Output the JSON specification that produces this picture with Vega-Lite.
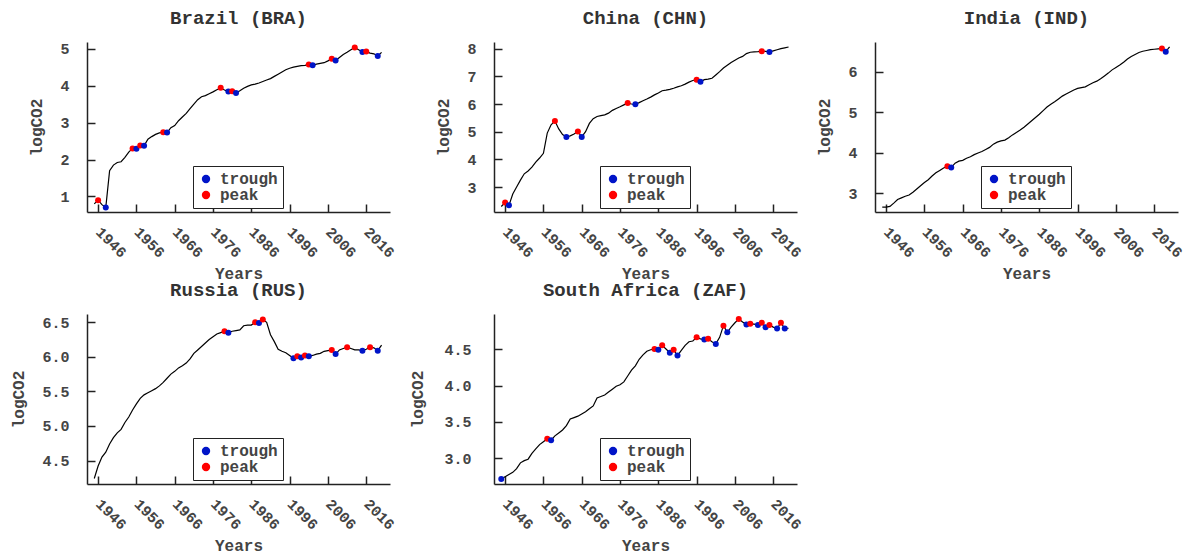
{
  "$schema": "https://vega.github.io/schema/vega-lite/v6.json",
  "background": "white",
  "padding": {"left": 10, "top": 8, "right": 5, "bottom": 3},
  "config": {
    "font": "Liberation Mono",
    "view": {"stroke": null},
    "axis": {
      "labelFont": "Liberation Mono", "labelFontSize": 15, "labelFontWeight": "bold", "labelColor": "#444",
      "titleFont": "Liberation Mono", "titleFontSize": 16, "titleFontWeight": "bold", "titleColor": "#444",
      "domainColor": "#222", "domainWidth": 1.5, "tickColor": "#222", "tickWidth": 1.5, "tickSize": -8, "grid": false
    },
    "axisX": {"labelAngle": 45, "labelAlign": "left", "labelBaseline": "middle", "labelPadding": 25, "titlePadding": 5},
    "axisY": {"labelPadding": 26, "titlePadding": 15},
    "title": {"font": "Liberation Mono", "fontSize": 19, "fontWeight": "bold", "color": "#333", "offset": 14},
    "legend": {
      "orient": "none", "legendX": 106, "legendY": 124, "title": null,
      "strokeColor": "#222", "fillColor": "white", "padding": 5,
      "labelFont": "Liberation Mono", "labelFontSize": 16, "labelFontWeight": "bold", "labelColor": "#444",
      "labelOffset": 6, "rowPadding": -7, "symbolSize": 70, "symbolType": "circle", "symbolStrokeWidth": 0
    }
  },
  "datasets": {
    "co2": [
      {"c":"BRA","year":1945,"v":0.80},{"c":"BRA","year":1946,"v":0.90,"kind":"peak"},{"c":"BRA","year":1947,"v":0.78},{"c":"BRA","year":1948,"v":0.70,"kind":"trough"},{"c":"BRA","year":1949,"v":1.70},{"c":"BRA","year":1950,"v":1.85},{"c":"BRA","year":1951,"v":1.92},{"c":"BRA","year":1952,"v":1.94},{"c":"BRA","year":1953,"v":2.06},{"c":"BRA","year":1954,"v":2.20},{"c":"BRA","year":1955,"v":2.30,"kind":"peak"},{"c":"BRA","year":1956,"v":2.29,"kind":"trough"},{"c":"BRA","year":1957,"v":2.38,"kind":"peak"},{"c":"BRA","year":1958,"v":2.37,"kind":"trough"},{"c":"BRA","year":1959,"v":2.55},{"c":"BRA","year":1960,"v":2.62},{"c":"BRA","year":1961,"v":2.68},{"c":"BRA","year":1962,"v":2.72},{"c":"BRA","year":1963,"v":2.74,"kind":"peak"},{"c":"BRA","year":1964,"v":2.73,"kind":"trough"},{"c":"BRA","year":1965,"v":2.86},{"c":"BRA","year":1966,"v":2.92},{"c":"BRA","year":1967,"v":3.05},{"c":"BRA","year":1968,"v":3.15},{"c":"BRA","year":1969,"v":3.25},{"c":"BRA","year":1970,"v":3.38},{"c":"BRA","year":1971,"v":3.50},{"c":"BRA","year":1972,"v":3.62},{"c":"BRA","year":1973,"v":3.70},{"c":"BRA","year":1974,"v":3.73},{"c":"BRA","year":1975,"v":3.78},{"c":"BRA","year":1976,"v":3.83},{"c":"BRA","year":1977,"v":3.89},{"c":"BRA","year":1978,"v":3.94,"kind":"peak"},{"c":"BRA","year":1979,"v":3.88},{"c":"BRA","year":1980,"v":3.84,"kind":"trough"},{"c":"BRA","year":1981,"v":3.85,"kind":"peak"},{"c":"BRA","year":1982,"v":3.80,"kind":"trough"},{"c":"BRA","year":1983,"v":3.86},{"c":"BRA","year":1984,"v":3.93},{"c":"BRA","year":1985,"v":3.98},{"c":"BRA","year":1986,"v":4.02},{"c":"BRA","year":1987,"v":4.04},{"c":"BRA","year":1988,"v":4.07},{"c":"BRA","year":1989,"v":4.11},{"c":"BRA","year":1990,"v":4.15},{"c":"BRA","year":1991,"v":4.19},{"c":"BRA","year":1992,"v":4.25},{"c":"BRA","year":1993,"v":4.31},{"c":"BRA","year":1994,"v":4.37},{"c":"BRA","year":1995,"v":4.43},{"c":"BRA","year":1996,"v":4.47},{"c":"BRA","year":1997,"v":4.50},{"c":"BRA","year":1998,"v":4.52},{"c":"BRA","year":1999,"v":4.54},{"c":"BRA","year":2000,"v":4.55},{"c":"BRA","year":2001,"v":4.57,"kind":"peak"},{"c":"BRA","year":2002,"v":4.55,"kind":"trough"},{"c":"BRA","year":2003,"v":4.58},{"c":"BRA","year":2004,"v":4.60},{"c":"BRA","year":2005,"v":4.62},{"c":"BRA","year":2006,"v":4.67},{"c":"BRA","year":2007,"v":4.73,"kind":"peak"},{"c":"BRA","year":2008,"v":4.68,"kind":"trough"},{"c":"BRA","year":2009,"v":4.76},{"c":"BRA","year":2010,"v":4.84},{"c":"BRA","year":2011,"v":4.90},{"c":"BRA","year":2012,"v":4.97},{"c":"BRA","year":2013,"v":5.03,"kind":"peak"},{"c":"BRA","year":2014,"v":4.97},{"c":"BRA","year":2015,"v":4.91,"kind":"trough"},{"c":"BRA","year":2016,"v":4.92,"kind":"peak"},{"c":"BRA","year":2017,"v":4.88},{"c":"BRA","year":2018,"v":4.86},{"c":"BRA","year":2019,"v":4.80,"kind":"trough"},{"c":"BRA","year":2020,"v":4.90},

      {"c":"CHN","year":1945,"v":2.30},{"c":"CHN","year":1946,"v":2.44,"kind":"peak"},{"c":"CHN","year":1947,"v":2.34,"kind":"trough"},{"c":"CHN","year":1948,"v":2.75},{"c":"CHN","year":1949,"v":3.00},{"c":"CHN","year":1950,"v":3.25},{"c":"CHN","year":1951,"v":3.48},{"c":"CHN","year":1952,"v":3.58},{"c":"CHN","year":1953,"v":3.72},{"c":"CHN","year":1954,"v":3.90},{"c":"CHN","year":1955,"v":4.05},{"c":"CHN","year":1956,"v":4.22},{"c":"CHN","year":1957,"v":4.95},{"c":"CHN","year":1958,"v":5.25},{"c":"CHN","year":1959,"v":5.39,"kind":"peak"},{"c":"CHN","year":1960,"v":5.10},{"c":"CHN","year":1961,"v":4.90},{"c":"CHN","year":1962,"v":4.81,"kind":"trough"},{"c":"CHN","year":1963,"v":4.85},{"c":"CHN","year":1964,"v":4.92},{"c":"CHN","year":1965,"v":5.01,"kind":"peak"},{"c":"CHN","year":1966,"v":4.81,"kind":"trough"},{"c":"CHN","year":1967,"v":5.00},{"c":"CHN","year":1968,"v":5.30},{"c":"CHN","year":1969,"v":5.47},{"c":"CHN","year":1970,"v":5.55},{"c":"CHN","year":1971,"v":5.58},{"c":"CHN","year":1972,"v":5.61},{"c":"CHN","year":1973,"v":5.67},{"c":"CHN","year":1974,"v":5.77},{"c":"CHN","year":1975,"v":5.84},{"c":"CHN","year":1976,"v":5.90},{"c":"CHN","year":1977,"v":5.97},{"c":"CHN","year":1978,"v":6.04,"kind":"peak"},{"c":"CHN","year":1979,"v":6.00},{"c":"CHN","year":1980,"v":5.99,"kind":"trough"},{"c":"CHN","year":1981,"v":6.05},{"c":"CHN","year":1982,"v":6.12},{"c":"CHN","year":1983,"v":6.18},{"c":"CHN","year":1984,"v":6.25},{"c":"CHN","year":1985,"v":6.33},{"c":"CHN","year":1986,"v":6.40},{"c":"CHN","year":1987,"v":6.48},{"c":"CHN","year":1988,"v":6.50},{"c":"CHN","year":1989,"v":6.53},{"c":"CHN","year":1990,"v":6.57},{"c":"CHN","year":1991,"v":6.62},{"c":"CHN","year":1992,"v":6.66},{"c":"CHN","year":1993,"v":6.72},{"c":"CHN","year":1994,"v":6.79},{"c":"CHN","year":1995,"v":6.85},{"c":"CHN","year":1996,"v":6.88,"kind":"peak"},{"c":"CHN","year":1997,"v":6.80,"kind":"trough"},{"c":"CHN","year":1998,"v":6.88},{"c":"CHN","year":1999,"v":6.90},{"c":"CHN","year":2000,"v":6.93},{"c":"CHN","year":2001,"v":7.05},{"c":"CHN","year":2002,"v":7.17},{"c":"CHN","year":2003,"v":7.30},{"c":"CHN","year":2004,"v":7.40},{"c":"CHN","year":2005,"v":7.50},{"c":"CHN","year":2006,"v":7.58},{"c":"CHN","year":2007,"v":7.66},{"c":"CHN","year":2008,"v":7.72},{"c":"CHN","year":2009,"v":7.82},{"c":"CHN","year":2010,"v":7.87},{"c":"CHN","year":2011,"v":7.88},{"c":"CHN","year":2012,"v":7.89},{"c":"CHN","year":2013,"v":7.91,"kind":"peak"},{"c":"CHN","year":2014,"v":7.90},{"c":"CHN","year":2015,"v":7.88,"kind":"trough"},{"c":"CHN","year":2016,"v":7.92},{"c":"CHN","year":2017,"v":7.96},{"c":"CHN","year":2018,"v":8.00},{"c":"CHN","year":2019,"v":8.03},{"c":"CHN","year":2020,"v":8.06},

      {"c":"IND","year":1945,"v":2.65},{"c":"IND","year":1946,"v":2.65},{"c":"IND","year":1947,"v":2.67},{"c":"IND","year":1948,"v":2.75},{"c":"IND","year":1949,"v":2.84},{"c":"IND","year":1950,"v":2.88},{"c":"IND","year":1951,"v":2.92},{"c":"IND","year":1952,"v":2.95},{"c":"IND","year":1953,"v":3.02},{"c":"IND","year":1954,"v":3.10},{"c":"IND","year":1955,"v":3.18},{"c":"IND","year":1956,"v":3.26},{"c":"IND","year":1957,"v":3.33},{"c":"IND","year":1958,"v":3.42},{"c":"IND","year":1959,"v":3.50},{"c":"IND","year":1960,"v":3.56},{"c":"IND","year":1961,"v":3.62},{"c":"IND","year":1962,"v":3.66,"kind":"peak"},{"c":"IND","year":1963,"v":3.63,"kind":"trough"},{"c":"IND","year":1964,"v":3.74},{"c":"IND","year":1965,"v":3.79},{"c":"IND","year":1966,"v":3.81},{"c":"IND","year":1967,"v":3.86},{"c":"IND","year":1968,"v":3.90},{"c":"IND","year":1969,"v":3.95},{"c":"IND","year":1970,"v":3.99},{"c":"IND","year":1971,"v":4.03},{"c":"IND","year":1972,"v":4.08},{"c":"IND","year":1973,"v":4.13},{"c":"IND","year":1974,"v":4.21},{"c":"IND","year":1975,"v":4.26},{"c":"IND","year":1976,"v":4.29},{"c":"IND","year":1977,"v":4.31},{"c":"IND","year":1978,"v":4.37},{"c":"IND","year":1979,"v":4.44},{"c":"IND","year":1980,"v":4.50},{"c":"IND","year":1981,"v":4.56},{"c":"IND","year":1982,"v":4.63},{"c":"IND","year":1983,"v":4.71},{"c":"IND","year":1984,"v":4.79},{"c":"IND","year":1985,"v":4.87},{"c":"IND","year":1986,"v":4.95},{"c":"IND","year":1987,"v":5.04},{"c":"IND","year":1988,"v":5.13},{"c":"IND","year":1989,"v":5.20},{"c":"IND","year":1990,"v":5.26},{"c":"IND","year":1991,"v":5.33},{"c":"IND","year":1992,"v":5.40},{"c":"IND","year":1993,"v":5.45},{"c":"IND","year":1994,"v":5.50},{"c":"IND","year":1995,"v":5.55},{"c":"IND","year":1996,"v":5.59},{"c":"IND","year":1997,"v":5.61},{"c":"IND","year":1998,"v":5.63},{"c":"IND","year":1999,"v":5.68},{"c":"IND","year":2000,"v":5.73},{"c":"IND","year":2001,"v":5.77},{"c":"IND","year":2002,"v":5.83},{"c":"IND","year":2003,"v":5.90},{"c":"IND","year":2004,"v":5.97},{"c":"IND","year":2005,"v":6.05},{"c":"IND","year":2006,"v":6.11},{"c":"IND","year":2007,"v":6.17},{"c":"IND","year":2008,"v":6.24},{"c":"IND","year":2009,"v":6.32},{"c":"IND","year":2010,"v":6.38},{"c":"IND","year":2011,"v":6.43},{"c":"IND","year":2012,"v":6.48},{"c":"IND","year":2013,"v":6.51},{"c":"IND","year":2014,"v":6.53},{"c":"IND","year":2015,"v":6.55},{"c":"IND","year":2016,"v":6.56},{"c":"IND","year":2017,"v":6.57},{"c":"IND","year":2018,"v":6.58,"kind":"peak"},{"c":"IND","year":2019,"v":6.50,"kind":"trough"},{"c":"IND","year":2020,"v":6.62},

      {"c":"RUS","year":1945,"v":4.24},{"c":"RUS","year":1946,"v":4.42},{"c":"RUS","year":1947,"v":4.55},{"c":"RUS","year":1948,"v":4.62},{"c":"RUS","year":1949,"v":4.74},{"c":"RUS","year":1950,"v":4.83},{"c":"RUS","year":1951,"v":4.90},{"c":"RUS","year":1952,"v":4.95},{"c":"RUS","year":1953,"v":5.05},{"c":"RUS","year":1954,"v":5.13},{"c":"RUS","year":1955,"v":5.23},{"c":"RUS","year":1956,"v":5.32},{"c":"RUS","year":1957,"v":5.40},{"c":"RUS","year":1958,"v":5.45},{"c":"RUS","year":1959,"v":5.48},{"c":"RUS","year":1960,"v":5.51},{"c":"RUS","year":1961,"v":5.54},{"c":"RUS","year":1962,"v":5.58},{"c":"RUS","year":1963,"v":5.63},{"c":"RUS","year":1964,"v":5.69},{"c":"RUS","year":1965,"v":5.75},{"c":"RUS","year":1966,"v":5.79},{"c":"RUS","year":1967,"v":5.84},{"c":"RUS","year":1968,"v":5.87},{"c":"RUS","year":1969,"v":5.91},{"c":"RUS","year":1970,"v":5.97},{"c":"RUS","year":1971,"v":6.05},{"c":"RUS","year":1972,"v":6.10},{"c":"RUS","year":1973,"v":6.15},{"c":"RUS","year":1974,"v":6.20},{"c":"RUS","year":1975,"v":6.25},{"c":"RUS","year":1976,"v":6.29},{"c":"RUS","year":1977,"v":6.33},{"c":"RUS","year":1978,"v":6.35},{"c":"RUS","year":1979,"v":6.37,"kind":"peak"},{"c":"RUS","year":1980,"v":6.35,"kind":"trough"},{"c":"RUS","year":1981,"v":6.37},{"c":"RUS","year":1982,"v":6.38},{"c":"RUS","year":1983,"v":6.39},{"c":"RUS","year":1984,"v":6.45},{"c":"RUS","year":1985,"v":6.46},{"c":"RUS","year":1986,"v":6.46},{"c":"RUS","year":1987,"v":6.50,"kind":"peak"},{"c":"RUS","year":1988,"v":6.49,"kind":"trough"},{"c":"RUS","year":1989,"v":6.54,"kind":"peak"},{"c":"RUS","year":1990,"v":6.50},{"c":"RUS","year":1991,"v":6.32},{"c":"RUS","year":1992,"v":6.22},{"c":"RUS","year":1993,"v":6.11},{"c":"RUS","year":1994,"v":6.08},{"c":"RUS","year":1995,"v":6.06},{"c":"RUS","year":1996,"v":6.02},{"c":"RUS","year":1997,"v":5.98,"kind":"trough"},{"c":"RUS","year":1998,"v":6.01,"kind":"peak"},{"c":"RUS","year":1999,"v":5.99,"kind":"trough"},{"c":"RUS","year":2000,"v":6.02,"kind":"peak"},{"c":"RUS","year":2001,"v":6.01,"kind":"trough"},{"c":"RUS","year":2002,"v":6.02},{"c":"RUS","year":2003,"v":6.04},{"c":"RUS","year":2004,"v":6.05},{"c":"RUS","year":2005,"v":6.08},{"c":"RUS","year":2006,"v":6.09},{"c":"RUS","year":2007,"v":6.10,"kind":"peak"},{"c":"RUS","year":2008,"v":6.04,"kind":"trough"},{"c":"RUS","year":2009,"v":6.10},{"c":"RUS","year":2010,"v":6.12},{"c":"RUS","year":2011,"v":6.14,"kind":"peak"},{"c":"RUS","year":2012,"v":6.12},{"c":"RUS","year":2013,"v":6.10},{"c":"RUS","year":2014,"v":6.10},{"c":"RUS","year":2015,"v":6.09,"kind":"trough"},{"c":"RUS","year":2016,"v":6.11},{"c":"RUS","year":2017,"v":6.14,"kind":"peak"},{"c":"RUS","year":2018,"v":6.13},{"c":"RUS","year":2019,"v":6.09,"kind":"trough"},{"c":"RUS","year":2020,"v":6.17},

      {"c":"ZAF","year":1945,"v":2.72,"kind":"trough"},{"c":"ZAF","year":1946,"v":2.75},{"c":"ZAF","year":1947,"v":2.78},{"c":"ZAF","year":1948,"v":2.81},{"c":"ZAF","year":1949,"v":2.86},{"c":"ZAF","year":1950,"v":2.94},{"c":"ZAF","year":1951,"v":2.97},{"c":"ZAF","year":1952,"v":2.99},{"c":"ZAF","year":1953,"v":3.07},{"c":"ZAF","year":1954,"v":3.13},{"c":"ZAF","year":1955,"v":3.19},{"c":"ZAF","year":1956,"v":3.23},{"c":"ZAF","year":1957,"v":3.27,"kind":"peak"},{"c":"ZAF","year":1958,"v":3.25,"kind":"trough"},{"c":"ZAF","year":1959,"v":3.31},{"c":"ZAF","year":1960,"v":3.35},{"c":"ZAF","year":1961,"v":3.39},{"c":"ZAF","year":1962,"v":3.45},{"c":"ZAF","year":1963,"v":3.54},{"c":"ZAF","year":1964,"v":3.56},{"c":"ZAF","year":1965,"v":3.58},{"c":"ZAF","year":1966,"v":3.61},{"c":"ZAF","year":1967,"v":3.64},{"c":"ZAF","year":1968,"v":3.68},{"c":"ZAF","year":1969,"v":3.72},{"c":"ZAF","year":1970,"v":3.83},{"c":"ZAF","year":1971,"v":3.85},{"c":"ZAF","year":1972,"v":3.87},{"c":"ZAF","year":1973,"v":3.91},{"c":"ZAF","year":1974,"v":3.95},{"c":"ZAF","year":1975,"v":3.99},{"c":"ZAF","year":1976,"v":4.01},{"c":"ZAF","year":1977,"v":4.05},{"c":"ZAF","year":1978,"v":4.13},{"c":"ZAF","year":1979,"v":4.21},{"c":"ZAF","year":1980,"v":4.27},{"c":"ZAF","year":1981,"v":4.36},{"c":"ZAF","year":1982,"v":4.42},{"c":"ZAF","year":1983,"v":4.47},{"c":"ZAF","year":1984,"v":4.49},{"c":"ZAF","year":1985,"v":4.50,"kind":"peak"},{"c":"ZAF","year":1986,"v":4.49,"kind":"trough"},{"c":"ZAF","year":1987,"v":4.55,"kind":"peak"},{"c":"ZAF","year":1988,"v":4.50},{"c":"ZAF","year":1989,"v":4.45,"kind":"trough"},{"c":"ZAF","year":1990,"v":4.49,"kind":"peak"},{"c":"ZAF","year":1991,"v":4.41,"kind":"trough"},{"c":"ZAF","year":1992,"v":4.48},{"c":"ZAF","year":1993,"v":4.55},{"c":"ZAF","year":1994,"v":4.60},{"c":"ZAF","year":1995,"v":4.61},{"c":"ZAF","year":1996,"v":4.66,"kind":"peak"},{"c":"ZAF","year":1997,"v":4.64},{"c":"ZAF","year":1998,"v":4.63,"kind":"trough"},{"c":"ZAF","year":1999,"v":4.64,"kind":"peak"},{"c":"ZAF","year":2000,"v":4.60},{"c":"ZAF","year":2001,"v":4.57,"kind":"trough"},{"c":"ZAF","year":2002,"v":4.66},{"c":"ZAF","year":2003,"v":4.82,"kind":"peak"},{"c":"ZAF","year":2004,"v":4.73,"kind":"trough"},{"c":"ZAF","year":2005,"v":4.80},{"c":"ZAF","year":2006,"v":4.86},{"c":"ZAF","year":2007,"v":4.91,"kind":"peak"},{"c":"ZAF","year":2008,"v":4.87},{"c":"ZAF","year":2009,"v":4.835,"kind":"trough"},{"c":"ZAF","year":2010,"v":4.845,"kind":"peak"},{"c":"ZAF","year":2011,"v":4.84},{"c":"ZAF","year":2012,"v":4.83,"kind":"trough"},{"c":"ZAF","year":2013,"v":4.86,"kind":"peak"},{"c":"ZAF","year":2014,"v":4.80,"kind":"trough"},{"c":"ZAF","year":2015,"v":4.83,"kind":"peak"},{"c":"ZAF","year":2016,"v":4.80},{"c":"ZAF","year":2017,"v":4.78,"kind":"trough"},{"c":"ZAF","year":2018,"v":4.86,"kind":"peak"},{"c":"ZAF","year":2019,"v":4.78,"kind":"trough"},{"c":"ZAF","year":2020,"v":4.785}
    ]
  },
  "data": {"name": "co2"},
  "columns": 3,
  "align": "each",
  "spacing": {"column": 12, "row": -1},
  "resolve": {"scale": {"color": "independent", "y": "independent"}, "legend": {"color": "independent"}},
  "concat": [
    {
      "title": "Brazil (BRA)", "width": 303, "height": 170,
      "transform": [{"filter": "datum.c === 'BRA'"}],
      "encoding": {
        "x": {"field": "year", "type": "quantitative", "scale": {"domain": [1943.1, 2022.2], "nice": false, "zero": false}, "axis": {"title": "Years", "values": [1946, 1956, 1966, 1976, 1986, 1996, 2006, 2016], "format": "d"}},
        "y": {"field": "v", "type": "quantitative", "scale": {"domain": [0.58, 5.18], "nice": false, "zero": false}, "axis": {"title": "logCO2", "values": [1, 2, 3, 4, 5], "format": "d"}}
      },
      "layer": [
        {"mark": {"type": "line", "color": "black", "strokeWidth": 1.2}},
        {"transform": [{"filter": "isValid(datum.kind)"}], "mark": {"type": "circle", "size": 36, "opacity": 1},
         "encoding": {"color": {"field": "kind", "type": "nominal", "scale": {"domain": ["trough", "peak"], "range": ["#0014c8", "#ff0000"]}}}}
      ]
    },
    {
      "title": "China (CHN)", "width": 303, "height": 170,
      "transform": [{"filter": "datum.c === 'CHN'"}],
      "encoding": {
        "x": {"field": "year", "type": "quantitative", "scale": {"domain": [1943.1, 2022.2], "nice": false, "zero": false}, "axis": {"title": "Years", "values": [1946, 1956, 1966, 1976, 1986, 1996, 2006, 2016], "format": "d"}},
        "y": {"field": "v", "type": "quantitative", "scale": {"domain": [2.1, 8.24], "nice": false, "zero": false}, "axis": {"title": "logCO2", "values": [3, 4, 5, 6, 7, 8], "format": "d"}}
      },
      "layer": [
        {"mark": {"type": "line", "color": "black", "strokeWidth": 1.2}},
        {"transform": [{"filter": "isValid(datum.kind)"}], "mark": {"type": "circle", "size": 36, "opacity": 1},
         "encoding": {"color": {"field": "kind", "type": "nominal", "scale": {"domain": ["trough", "peak"], "range": ["#0014c8", "#ff0000"]}}}}
      ]
    },
    {
      "title": "India (IND)", "width": 303, "height": 170,
      "transform": [{"filter": "datum.c === 'IND'"}],
      "encoding": {
        "x": {"field": "year", "type": "quantitative", "scale": {"domain": [1943.1, 2022.2], "nice": false, "zero": false}, "axis": {"title": "Years", "values": [1946, 1956, 1966, 1976, 1986, 1996, 2006, 2016], "format": "d"}},
        "y": {"field": "v", "type": "quantitative", "scale": {"domain": [2.53, 6.74], "nice": false, "zero": false}, "axis": {"title": "logCO2", "values": [3, 4, 5, 6], "format": "d"}}
      },
      "layer": [
        {"mark": {"type": "line", "color": "black", "strokeWidth": 1.2}},
        {"transform": [{"filter": "isValid(datum.kind)"}], "mark": {"type": "circle", "size": 36, "opacity": 1},
         "encoding": {"color": {"field": "kind", "type": "nominal", "scale": {"domain": ["trough", "peak"], "range": ["#0014c8", "#ff0000"]}}}}
      ]
    },
    {
      "title": "Russia (RUS)", "width": 303, "height": 170,
      "transform": [{"filter": "datum.c === 'RUS'"}],
      "encoding": {
        "x": {"field": "year", "type": "quantitative", "scale": {"domain": [1943.1, 2022.2], "nice": false, "zero": false}, "axis": {"title": "Years", "values": [1946, 1956, 1966, 1976, 1986, 1996, 2006, 2016], "format": "d"}},
        "y": {"field": "v", "type": "quantitative", "scale": {"domain": [4.16, 6.62], "nice": false, "zero": false}, "axis": {"title": "logCO2", "values": [4.5, 5, 5.5, 6, 6.5], "format": ".1f"}}
      },
      "layer": [
        {"mark": {"type": "line", "color": "black", "strokeWidth": 1.2}},
        {"transform": [{"filter": "isValid(datum.kind)"}], "mark": {"type": "circle", "size": 36, "opacity": 1},
         "encoding": {"color": {"field": "kind", "type": "nominal", "scale": {"domain": ["trough", "peak"], "range": ["#0014c8", "#ff0000"]}}}}
      ]
    },
    {
      "title": "South Africa (ZAF)", "width": 303, "height": 170,
      "transform": [{"filter": "datum.c === 'ZAF'"}],
      "encoding": {
        "x": {"field": "year", "type": "quantitative", "scale": {"domain": [1943.1, 2022.2], "nice": false, "zero": false}, "axis": {"title": "Years", "values": [1946, 1956, 1966, 1976, 1986, 1996, 2006, 2016], "format": "d"}},
        "y": {"field": "v", "type": "quantitative", "scale": {"domain": [2.65, 4.98], "nice": false, "zero": false}, "axis": {"title": "logCO2", "values": [3, 3.5, 4, 4.5], "format": ".1f", "labelPadding": 31, "titlePadding": 18}}
      },
      "layer": [
        {"mark": {"type": "line", "color": "black", "strokeWidth": 1.2}},
        {"transform": [{"filter": "isValid(datum.kind)"}], "mark": {"type": "circle", "size": 36, "opacity": 1},
         "encoding": {"color": {"field": "kind", "type": "nominal", "scale": {"domain": ["trough", "peak"], "range": ["#0014c8", "#ff0000"]}}}}
      ]
    }
  ]
}
